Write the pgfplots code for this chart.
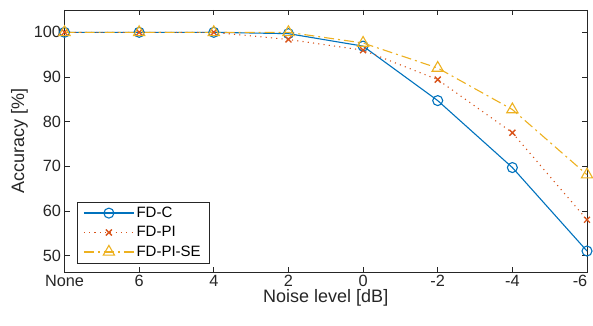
\documentclass[border=0pt]{standalone}
\usepackage{pgfplots}
\pgfplotsset{compat=1.18}
\usepackage{fontspec}
\setmainfont{Liberation Sans}
\usetikzlibrary{calc}
\definecolor{mblue}{rgb}{0,0.447,0.741}
\definecolor{morange}{rgb}{0.85,0.325,0.098}
\definecolor{myellow}{rgb}{0.929,0.694,0.125}
\definecolor{axgray}{rgb}{0.15,0.15,0.15}
\begin{document}
\begin{tikzpicture}
\begin{axis}[
  scale only axis,
  width=522.5pt, height=262pt,
  xmin=0, xmax=7, ymin=46.3, ymax=105,
  xtick={0,1,2,3,4,5,6,7},
  xticklabels={None,6,4,2,0,-2,-4,{-6\hspace*{14pt}}},
  ytick={50,60,70,80,90,100},
  tick align=inside,
  major tick length=5pt,
  axis line style={axgray, line width=0.6pt},
  every tick/.style={axgray, line width=0.6pt},
  tick label style={font=\fontsize{16.3}{18}\selectfont, text=axgray},
  label style={font=\fontsize{18}{20}\selectfont, text=axgray},
  /pgf/number format/assume math mode=true,
  xlabel={Noise level [dB]},
  ylabel={Accuracy [\%]},
  xlabel style={yshift=4pt},
  ylabel style={yshift=-1pt},
  legend style={at={(0.024,0.034)}, anchor=south west, draw=axgray,
    font=\fontsize{15}{17}\selectfont, inner xsep=6pt, inner ysep=3pt,
    row sep=3.5pt},
  legend cell align=left,
  legend image code/.code={
    \draw[line width=1.3pt, mark repeat=2,mark phase=2] plot coordinates {(0pt,0pt) (25pt,0pt) (50pt,0pt)};
  },
  clip=false,
]
\addplot[mblue, line width=1.1pt, mark=o, mark size=5pt, mark options={solid, line width=1.1pt}]
 coordinates {(0,100) (1,100) (2,100) (3,99.7) (4,96.9) (5,84.7) (6,69.7) (7,51.0)};
\addlegendentry{FD-C}
\addplot[morange, line width=1.1pt, dash pattern=on 1.1pt off 4.2pt, mark=x, mark size=4.2pt, mark options={solid, line width=1.3pt}]
 coordinates {(0,100) (1,100) (2,100) (3,98.4) (4,96.0) (5,89.4) (6,77.5) (7,58.0)};
\addlegendentry{FD-PI}
\addplot[myellow, line width=1.1pt, dash pattern=on 10pt off 4pt on 2pt off 4pt, mark=triangle, mark size=6.5pt, mark options={solid, line width=1.1pt}]
 coordinates {(0,100) (1,100) (2,100) (3,100) (4,97.6) (5,92.0) (6,82.7) (7,68.1)};
\addlegendentry{FD-PI-SE}
\end{axis}
\pgfresetboundingbox
\path ($(current axis.south west)+(-64.5pt,-53pt)$) rectangle ($(current axis.north east)+(6pt,10pt)$);
\end{tikzpicture}
\end{document}
